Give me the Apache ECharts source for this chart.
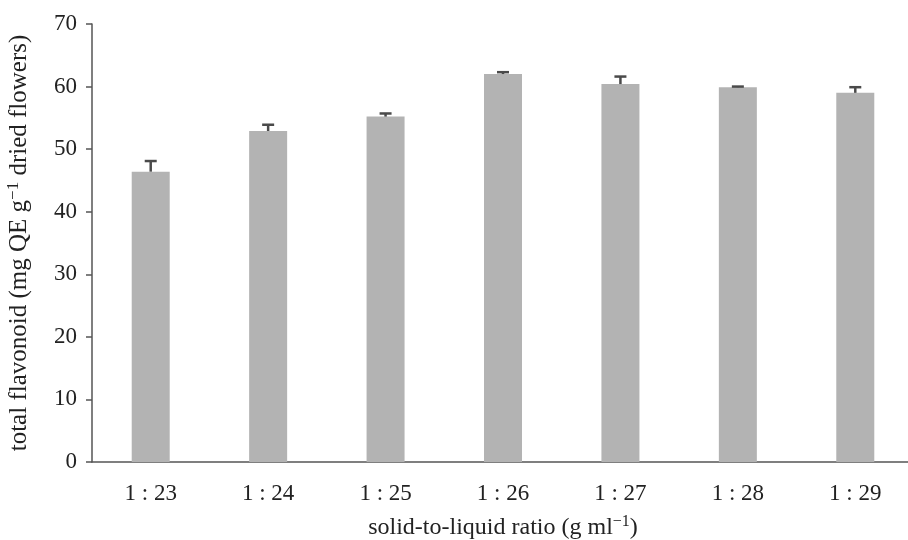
<!DOCTYPE html>
<html>
<head>
<meta charset="utf-8">
<script src="https://cdn.jsdelivr.net/npm/echarts@6/dist/echarts.min.js"></script>
<style>
  html, body { margin: 0; padding: 0; background: #fff; }
  #chart { width: 908px; height: 540px; }
</style>
</head>
<body>
<div id="chart"></div>
<script>
// Solid-to-liquid ratio categories
const ratios = ['1 : 23', '1 : 24', '1 : 25', '1 : 26', '1 : 27', '1 : 28', '1 : 29'];
// Mean total flavonoid content (mg QE g^-1 dried flowers)
const flavonoid = [46.4, 52.9, 55.2, 62.0, 60.4, 59.9, 59.0];
// Standard deviation (drawn upward only)
const flavonoidSD = [1.7, 1.0, 0.5, 0.3, 1.2, 0.1, 0.9];
// Value axis ticks
const yMin = 0, yMax = 70, yStep = 10;

const font = 'Liberation Serif, Times New Roman, serif';
const axisColor = '#555';
const textColor = '#222';

const chart = echarts.init(document.getElementById('chart'));

const errData = flavonoid.map((v, i) => [i, v, v + flavonoidSD[i]]);

function richName(size) {
  return {
    rich: {
      t: { fontFamily: font, fontSize: size, color: textColor, lineHeight: size + 4 },
      s: { fontFamily: font, fontSize: Math.round(size * 0.68), color: textColor, verticalAlign: 'top', lineHeight: size + 4, padding: [0, 0, 11, 0] }
    }
  };
}

chart.setOption({
  animation: false,
  grid: { left: 92, width: 822, top: 24, height: 438, outerBoundsMode: 'none', containLabel: false },
  xAxis: {
    type: 'category',
    data: ratios,
    axisLine: { lineStyle: { color: axisColor, width: 1.5 } },
    axisTick: { show: false },
    axisLabel: { fontFamily: font, fontSize: 23, color: textColor, margin: 20 },
    name: '{t|solid-to-liquid ratio (g ml}{s|−1}{t|)}',
    nameLocation: 'middle',
    nameGap: 52,
    nameTextStyle: richName(24)
  },
  yAxis: {
    type: 'value',
    min: yMin, max: yMax, interval: yStep,
    splitLine: { show: false },
    axisLine: { show: true, lineStyle: { color: axisColor, width: 1.5 } },
    axisTick: { show: true, length: 6, lineStyle: { color: axisColor, width: 1.5 } },
    axisLabel: { fontFamily: font, fontSize: 23, color: textColor, margin: 15 },
    name: '{t|total flavonoid (mg QE g}{s|−1}{t| dried flowers)}',
    nameLocation: 'middle',
    nameRotate: 90,
    nameGap: 58,
    nameTextStyle: richName(25)
  },
  series: [
    {
      type: 'bar',
      data: flavonoid,
      barWidth: 38,
      itemStyle: { color: '#b3b3b3' }
    },
    {
      type: 'custom',
      data: errData,
      z: 5,
      renderItem: function (params, api) {
        const base = api.coord([api.value(0), api.value(1)]);
        const top = api.coord([api.value(0), api.value(2)]);
        const half = 6;
        const style = { stroke: '#4a4a4a', lineWidth: 2.5 };
        return {
          type: 'group',
          children: [
            { type: 'line', shape: { x1: base[0], y1: base[1], x2: top[0], y2: top[1] }, style: style },
            { type: 'line', shape: { x1: top[0] - half, y1: top[1], x2: top[0] + half, y2: top[1] }, style: style }
          ]
        };
      }
    }
  ]
});
</script>
</body>
</html>
